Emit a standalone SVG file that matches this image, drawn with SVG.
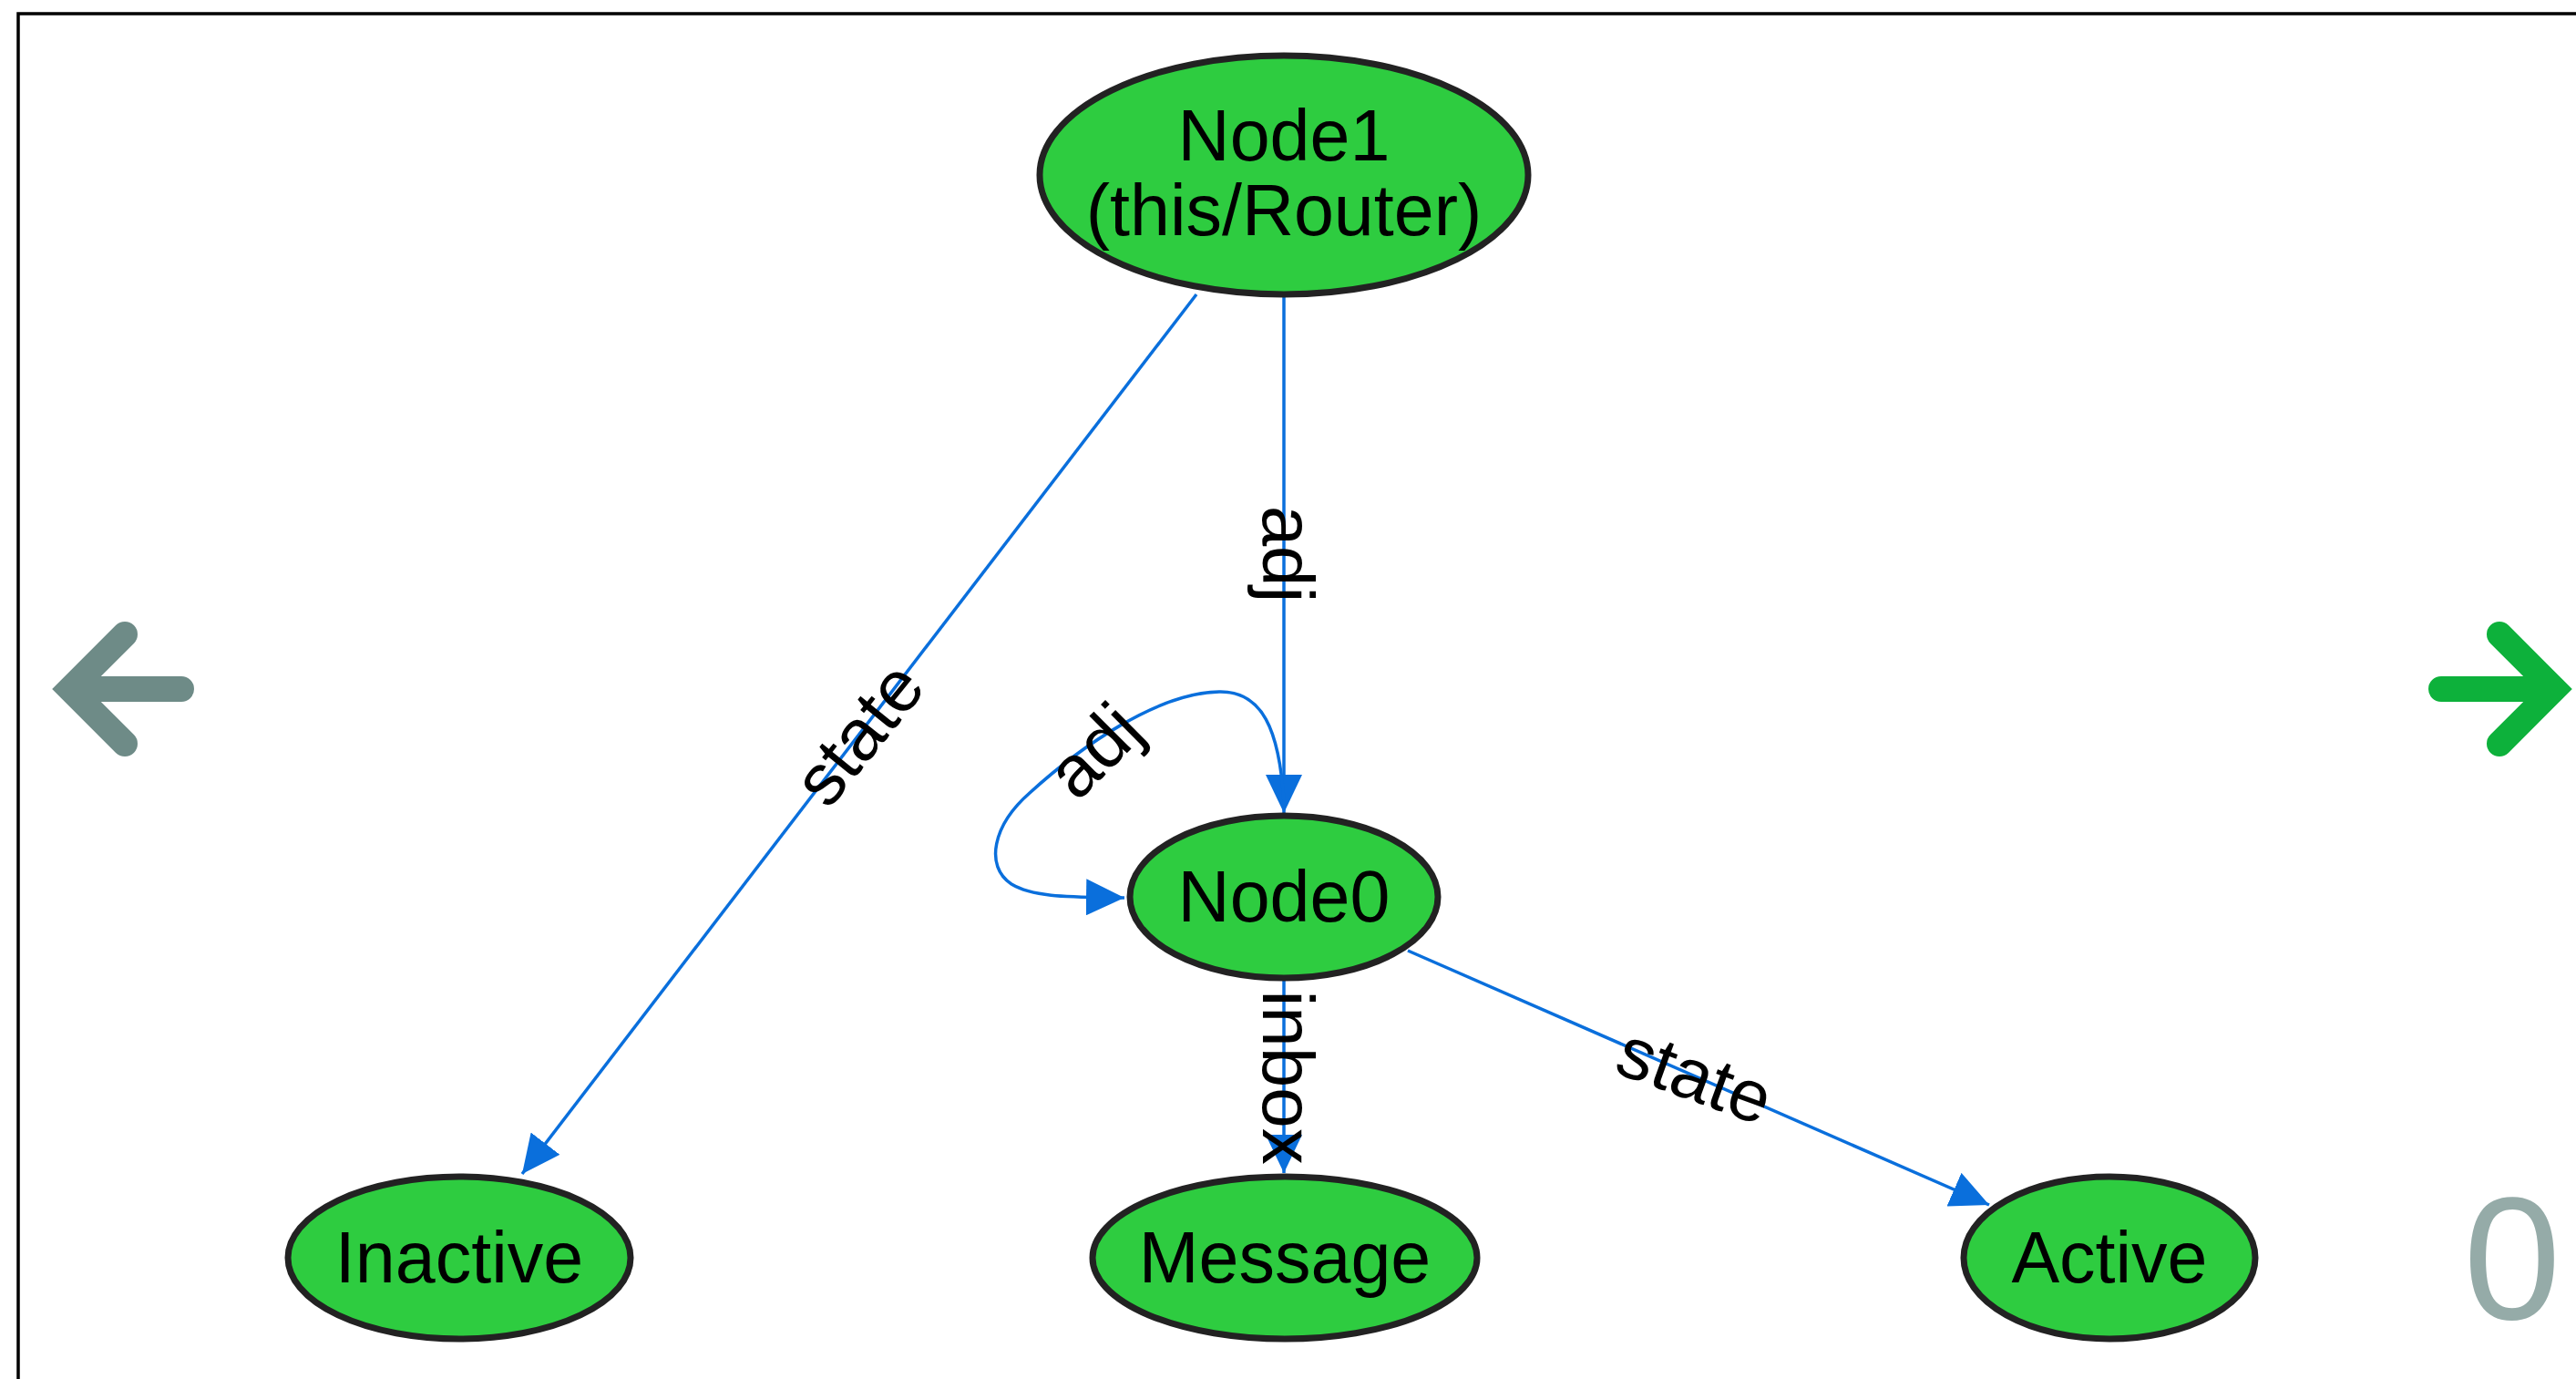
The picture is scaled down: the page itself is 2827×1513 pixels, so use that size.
<svg xmlns="http://www.w3.org/2000/svg" width="2827" height="1513" viewBox="0 0 2827 1513">
<style>
.node ellipse{fill:#2ecc40;stroke:#222;stroke-width:7}
.node text{font-family:"Liberation Sans",Arial,sans-serif;font-size:79px;fill:#000;text-anchor:middle}
.edge{fill:none;stroke:#0a6fdc;stroke-width:3.5}
.elabel{font-family:"Liberation Sans",Arial,sans-serif;font-size:80px;fill:#000;text-anchor:middle}
</style>
<defs>
<marker id="arr" markerUnits="userSpaceOnUse" markerWidth="42" markerHeight="40" refX="42" refY="20" orient="auto">
<path d="M0,0 L42,20 L0,40 z" fill="#0a6fdc"/>
</marker>
</defs>
<rect x="0" y="0" width="2827" height="1513" fill="#fff"/>
<rect x="20" y="15" width="3200" height="3000" fill="none" stroke="#000" stroke-width="3.5"/>

<g id="connectors">
<path class="edge" d="M1409,325 L1409,892" marker-end="url(#arr)"/>
<path class="edge" d="M1313,323 L573,1288" marker-end="url(#arr)"/>
<path class="edge" d="M1409,880 C1404,800 1385,758 1338,759 C1270,760 1185,820 1130,870 C1090,905 1080,950 1110,970 C1135,985 1175,984 1234,985" marker-end="url(#arr)"/>
<path class="edge" d="M1409,1076 L1409,1287" marker-end="url(#arr)"/>
<path class="edge" d="M1545,1043 L2183,1322" marker-end="url(#arr)"/>
<text class="elabel" transform="translate(1386,608) rotate(90)">adj</text>
<text class="elabel" transform="translate(945,807) rotate(-51) translate(0,24)">state</text>
<text class="elabel" transform="translate(1203,826) rotate(-45) translate(0,24)">adj</text>
<text class="elabel" transform="translate(1386,1182) rotate(90)">inbox</text>
<text class="elabel" transform="translate(1859,1183) rotate(20) translate(0,24)">state</text>
</g>

<g id="node1" class="node">
<ellipse cx="1409" cy="192" rx="268" ry="131"/>
<text x="1409" y="176">Node1</text>
<text x="1409" y="258">(this/Router)</text>
</g>
<g id="node0" class="node">
<ellipse cx="1409" cy="984" rx="169" ry="89"/>
<text x="1409" y="1011">Node0</text>
</g>
<g id="inactive" class="node">
<ellipse cx="504" cy="1380" rx="188" ry="89"/>
<text x="504" y="1407">Inactive</text>
</g>
<g id="message" class="node">
<ellipse cx="1410" cy="1380" rx="211" ry="89"/>
<text x="1410" y="1407">Message</text>
</g>
<g id="active" class="node">
<ellipse cx="2315" cy="1380" rx="160" ry="89"/>
<text x="2315" y="1407">Active</text>
</g>

<g id="nav-left">
<path d="M137,696 L77,756 L137,816 M77,756 L199,756" fill="none" stroke="#6e8b87" stroke-width="28" stroke-linecap="round" stroke-linejoin="miter"/>
</g>
<g id="nav-right">
<path d="M2743,696 L2803,756 L2743,816 M2803,756 L2679,756" fill="none" stroke="#0db13b" stroke-width="28" stroke-linecap="round" stroke-linejoin="miter"/>
</g>
<text id="counter" x="2757" y="1447" font-family="'Liberation Sans',Arial,sans-serif" font-size="192" fill="#95aba8" text-anchor="middle">0</text>
</svg>
